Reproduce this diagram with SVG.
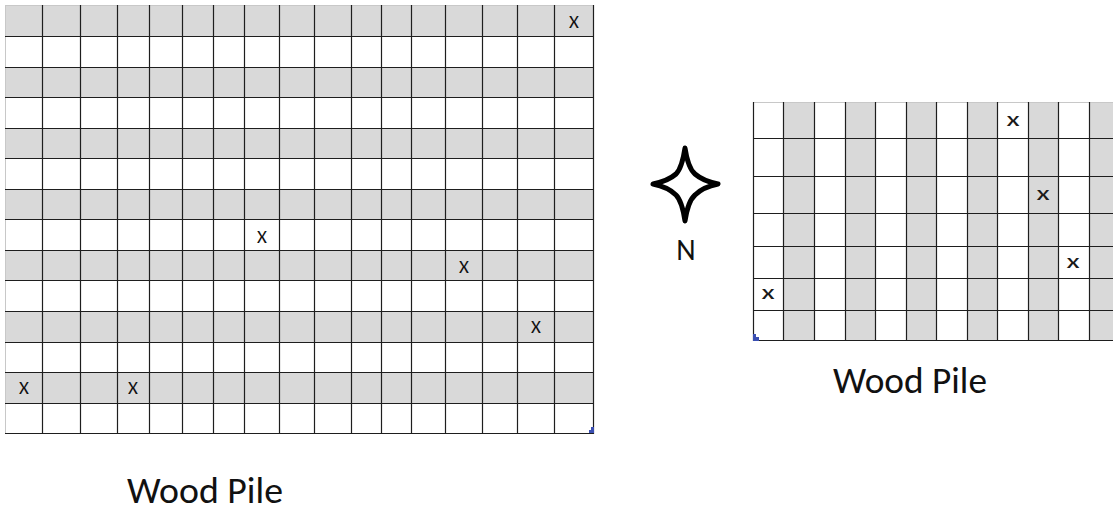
<svg xmlns="http://www.w3.org/2000/svg" width="1113" height="512" viewBox="0 0 1113 512">
<style>
.g{fill:#d9d9d9}
.ln{stroke:#1e1e1e;stroke-width:1.2;fill:none}
.edge{stroke:#c8c8c8;stroke-width:1;fill:none}
.X{font-family:Carlito,Lato,"Open Sans",sans-serif;font-size:19px;fill:#111;text-anchor:middle}
.x{font-family:Carlito,Lato,"Open Sans",sans-serif;font-size:21px;fill:#1a1a1a;text-anchor:middle}
.lbl{font-family:Carlito,Lato,"Open Sans",sans-serif;font-size:36px;fill:#111}
.corner{fill:#3a4fb2}
</style>
<rect width="1113" height="512" fill="#fff"/>
<g id="left-grid">
<rect class="g" x="5" y="5" width="589" height="31"/>
<rect class="g" x="5" y="67.5" width="589" height="30"/>
<rect class="g" x="5" y="128.5" width="589" height="30"/>
<rect class="g" x="5" y="189.5" width="589" height="30"/>
<rect class="g" x="5" y="250.5" width="589" height="30"/>
<rect class="g" x="5" y="311.5" width="589" height="31"/>
<rect class="g" x="5" y="372.5" width="589" height="31"/>
<path class="edge" d="M5.5,5 V433.5 M5,5.5 H593.5"/>
<path class="ln" d="M5,36.5 H594 M5,67.5 H594 M5,97.5 H594 M5,128.5 H594 M5,158.5 H594 M5,189.5 H594 M5,219.5 H594 M5,250.5 H594 M5,280.5 H594 M5,311.5 H594 M5,342.5 H594 M5,372.5 H594 M5,403.5 H594 M5,433.5 H594"/>
<path class="ln" d="M42.5,5 V434 M80.5,5 V434 M117.5,5 V434 M149.5,5 V434 M182.5,5 V434 M213.5,5 V434 M244.5,5 V434 M279.5,5 V434 M314.5,5 V434 M351.5,5 V434 M381.5,5 V434 M411.5,5 V434 M445.5,5 V434 M482.5,5 V434 M517.5,5 V434 M554.5,5 V434 M593.5,5 V434"/>
<text class="X" x="574" y="28">X</text>
<text class="X" x="262" y="243">X</text>
<text class="X" x="464" y="273">X</text>
<text class="X" x="536" y="333">X</text>
<text class="X" x="24" y="394">X</text>
<text class="X" x="133" y="394">X</text>
<path class="corner" d="M589,433 V430 H591 V427 H594 V433 Z"/>
</g>
<g id="right-grid">
<rect class="g" x="783.5" y="102" width="31" height="239"/>
<rect class="g" x="845" y="102" width="30.5" height="239"/>
<rect class="g" x="906" y="102" width="30.5" height="239"/>
<rect class="g" x="967" y="102" width="30.5" height="239"/>
<rect class="g" x="1028" y="102" width="30.5" height="239"/>
<rect class="g" x="1089.5" y="102" width="24" height="239"/>
<path class="edge" d="M753,102.5 H1113"/>
<path class="ln" d="M753,138.5 H1113 M753,176.5 H1113 M753,213.5 H1113 M753,246.5 H1113 M753,278.5 H1113 M753,310.5 H1113 M753,340.5 H1113"/>
<path class="ln" d="M753.5,102 V341 M783.5,102 V341 M814.5,102 V341 M845.5,102 V341 M875.5,102 V341 M906.5,102 V341 M936.5,102 V341 M967.5,102 V341 M997.5,102 V341 M1028.5,102 V341 M1058.5,102 V341 M1089.5,102 V341"/>
<text class="x" transform="translate(1013,126) scale(1.45,1)" x="0" y="0">x</text>
<text class="x" transform="translate(1043,200) scale(1.45,1)" x="0" y="0">x</text>
<text class="x" transform="translate(1073,268) scale(1.45,1)" x="0" y="0">x</text>
<text class="x" transform="translate(768,299) scale(1.45,1)" x="0" y="0">x</text>
<path class="corner" d="M753,334 H756 V337 H759 V341 H753 Z"/>
</g>
<g id="compass">
<path d="M685,148 Q688,168 695,174 Q703,181 718,184 Q703,187 695,195 Q688,201 685,221 Q682,201 676,195 Q668,187 653,184 Q668,181 676,174 Q682,168 685,148 Z" fill="#fff" stroke="#000" stroke-width="5" stroke-linejoin="round"/>
<text x="686" y="260" font-family="Carlito,Lato,'Open Sans',sans-serif" font-size="30" fill="#111" text-anchor="middle">N</text>
</g>
<g id="labels">
<text class="lbl" x="127" y="503" textLength="156" lengthAdjust="spacingAndGlyphs">Wood Pile</text>
<text class="lbl" x="833" y="393" textLength="154" lengthAdjust="spacingAndGlyphs">Wood Pile</text>
</g>
</svg>
